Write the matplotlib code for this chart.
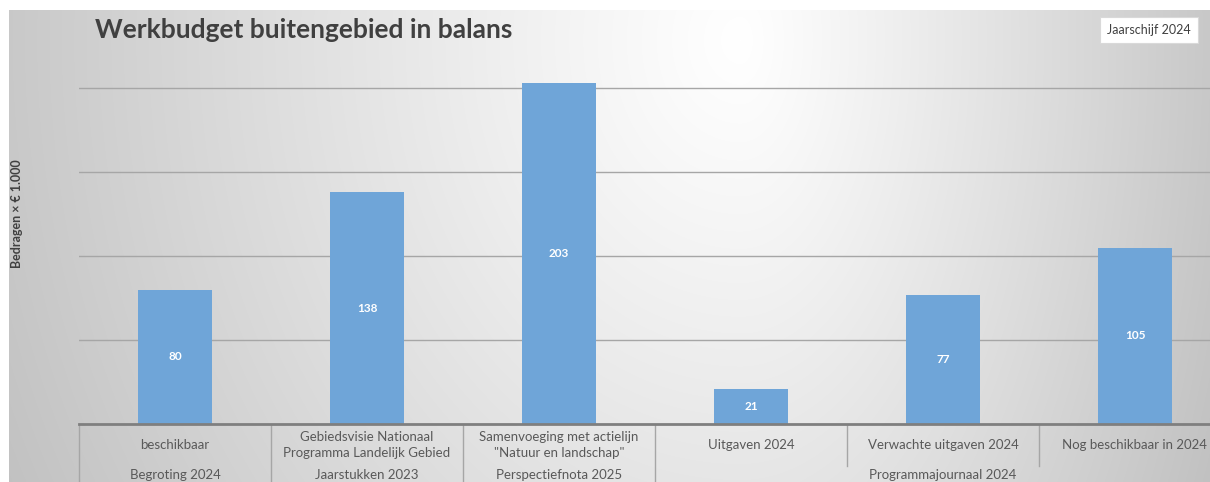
import numpy as np
import matplotlib
matplotlib.use("Agg")
import matplotlib.pyplot as plt
from matplotlib import transforms

# data
categories = [
    "beschikbaar",
    "Gebiedsvisie Nationaal\nProgramma Landelijk Gebied",
    "Samenvoeging met actielijn\n\"Natuur en landschap\"",
    "Uitgaven 2024",
    "Verwachte uitgaven 2024",
    "Nog beschikbaar in 2024",
]
groups = ["Begroting 2024", "Jaarstukken 2023", "Perspectiefnota 2025", "Programmajournaal 2024"]
group_members = [[0], [1], [2], [3, 4, 5]]
values = [80, 138, 203, 21, 77, 105]

W, H = 1210, 482
plt.rcParams['font.family'] = ['Lato', 'DejaVu Sans']

fig = plt.figure(figsize=(W / 100, H / 100), dpi=100, facecolor="white")

# background gradient (white centre, grey edges)
bg = fig.add_axes([9 / W, 0, 1 - 9 / W, 1 - 10 / H], zorder=-10)
yy, xx = np.mgrid[10:H, 9:W]
cx, cy = 740, 40
sx = np.where(xx < cx, 740.0, 470.0)
d = np.sqrt(((xx - cx) / sx) ** 2 + ((yy - cy) / 900.0) ** 2)
shade = np.clip(255 - 55 * d ** 1.1, 190, 255) / 255
bg.imshow(np.dstack([shade] * 3), aspect="auto", interpolation="bilinear")
bg.axis("off")

# main axes
left, base, top = 79, 424, 10
ax = fig.add_axes([left / W, 1 - base / H, 1152 / W, (base - top) / H])
ax.patch.set_alpha(0)
x = np.arange(len(values))
bars = ax.bar(x, values, width=0.39, color="#6fa5d8", zorder=3)
ax.set_xlim(-0.5, len(values) - 0.5)
ax.set_ylim(0, (base - top) / 1.68)
ax.set_yticks([50, 100, 150, 200])
ax.yaxis.grid(True, color="#a6a6a6", linewidth=1)
ax.set_axisbelow(True)
ax.tick_params(left=False, labelleft=False, bottom=False, labelbottom=False)
for s in ["left", "right", "top"]:
    ax.spines[s].set_visible(False)
ax.spines["bottom"].set_color("#7f7f7f")
ax.spines["bottom"].set_linewidth(2)
ax.spines["bottom"].set_zorder(4)

for b, v in zip(bars, values):
    ax.text(b.get_x() + b.get_width() / 2, v / 2, str(v), ha="center", va="center",
            color="white", fontsize=8.5, fontweight="bold", zorder=5)

# multi-level category axis
tr = transforms.blended_transform_factory(ax.transData, fig.transFigure)
fy = lambda p: 1 - p / H
for i, lab in enumerate(categories):
    ax.text(i, fy(445), lab, transform=tr, ha="center", va="center", fontsize=9.5,
            color="#595959", linespacing=1.35, clip_on=False)
for g, members in zip(groups, group_members):
    ax.text(np.mean(members), fy(475), g, transform=tr, ha="center", va="center",
            fontsize=9.5, color="#595959", clip_on=False)
sep_color = "#a6a6a6"
for xs in [-0.5, 0.5, 1.5, 2.5]:
    ax.plot([xs, xs], [fy(425), 0], transform=tr, color=sep_color, lw=1, clip_on=False)
for xs in [3.5, 4.5]:
    ax.plot([xs, xs], [fy(425), fy(466)], transform=tr, color=sep_color, lw=1, clip_on=False)

# titles
fig.text(95 / W, fy(30), "Werkbudget buitengebied in balans", fontsize=19, fontweight="bold",
         color="#404040", ha="left", va="center")
fig.text(1149 / W, fy(30), "Jaarschijf 2024", fontsize=9, color="#404040", ha="center", va="center",
         bbox=dict(boxstyle="square,pad=0.55", facecolor="white", edgecolor="#d9d9d9", linewidth=0.8))
fig.text(17 / W, fy(214), "Bedragen \u00d7 \u20ac 1.000", rotation=90, fontsize=9, fontweight="bold",
         color="#404040", ha="center", va="center")

fig.savefig("out.png", dpi=100, facecolor="white")
